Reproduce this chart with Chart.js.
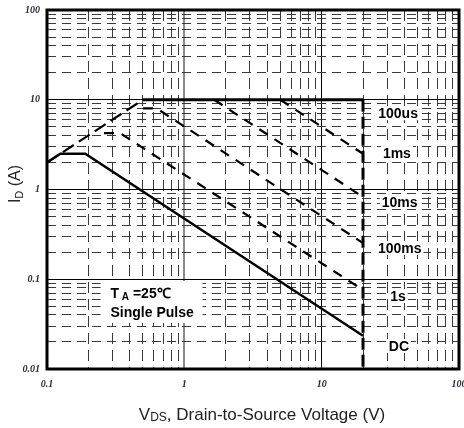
<!DOCTYPE html>
<html>
<head>
<meta charset="utf-8">
<script src="https://cdn.jsdelivr.net/npm/chart.js@4"></script>
<style>
body{margin:0;background:#fff;}
</style>
</head>
<body>
<canvas id="soa" width="464" height="428"></canvas>
<script>
// axis labels (decades only)
let xTickLabels = ['0.1', '1', '10', '100'];
let yTickLabels = ['0.01', '0.1', '1', '10', '100'];

// SOA boundary curves, pairs of [VDS (V), ID (A)]
let rdsLimit   = [[0.1, 2.0], [0.5, 10]];
let limit100us = [[0.5, 10], [20, 10]];
let vdsMax     = [[20, 10], [20, 0.01]];
let limit1ms   = [[5, 10], [20, 2.5]];
let limit10ms  = [[1.65, 10], [20, 0.825]];
let limit100ms = [[0.5, 8], [0.63, 8], [20, 0.253]];
let limit1s    = [[0.26, 4.25], [0.34, 4.25], [20, 0.076]];
let limitDC    = [[0.1, 2.0], [0.125, 2.5], [0.19, 2.5], [20, 0.0235]];

let curveNames = ['100us', '1ms', '10ms', '100ms', '1s', 'DC'];

function pts(arr){
    return arr.map(function(p){ return {x: p[0], y: p[1]}; });
}

function isDecade(v){
    let l = Math.log10(v);
    return Math.abs(l - Math.round(l)) < 1e-6;
}

// 1..9 x 10^e grid positions
function gridValues(lo, hi){
    let out = [];
    for (let e = lo; e < hi; e++){
        for (let m = 1; m < 10; m++){
            out.push(parseFloat((m * Math.pow(10, e)).toPrecision(3)));
        }
    }
    out.push(Math.pow(10, hi));
    return out;
}

function line(data, width, dash){
    return {
        data: pts(data),
        borderColor: '#000',
        borderWidth: width,
        borderDash: dash,
        borderCapStyle: 'butt',
        pointRadius: 0,
        tension: 0,
        fill: false
    };
}

function drawRuns(ctx, runs, x, y){
    runs.forEach(function(r){
        ctx.font = r[1];
        ctx.fillText(r[0], x, y + r[2]);
        x += ctx.measureText(r[0]).width;
    });
    return x;
}

function runsWidth(ctx, runs){
    let w = 0;
    runs.forEach(function(r){
        ctx.font = r[1];
        w += ctx.measureText(r[0]).width;
    });
    return w;
}

let sans = '"Liberation Sans", Arial, sans-serif';

let overlay = {
    id: 'overlay',
    beforeDatasetsDraw: function(chart){
        let ctx = chart.ctx;
        let sx = chart.scales.x, sy = chart.scales.y;
        ctx.save();
        ctx.font = 'bold 14px ' + sans;
        ctx.textAlign = 'center';
        ctx.textBaseline = 'middle';
        let spots = [[36, 7.1], [35.3, 2.55], [37, 0.726], [37, 0.223], [36, 0.065], [36.5, 0.018]];
        curveNames.forEach(function(name, i){
            let px = sx.getPixelForValue(spots[i][0]);
            let py = sy.getPixelForValue(spots[i][1]);
            let w = ctx.measureText(name).width;
            ctx.fillStyle = '#fff';
            ctx.fillRect(px - w / 2 - 2, py - 7, w + 4, 14);
            ctx.fillStyle = '#000';
            ctx.fillText(name, px, py + 1);
        });

        // test condition box
        let ax = sx.getPixelForValue(0.29);
        let ay = sy.getPixelForValue(0.0703);
        ctx.fillStyle = '#fff';
        ctx.fillRect(ax - 10, ay - 12, 102, 42);
        ctx.fillStyle = '#000';
        ctx.textAlign = 'left';
        ctx.textBaseline = 'alphabetic';
        drawRuns(ctx, [['T', 'bold 14px ' + sans, 0], [' A', 'bold 10px ' + sans, 2], [' =25\u2103', 'bold 14px ' + sans, 0]], ax, ay + 5);
        drawRuns(ctx, [['Single Pulse', 'bold 14px ' + sans, 0]], ax, ay + 24);
        ctx.restore();
    },
    afterDatasetsDraw: function(chart){
        let ctx = chart.ctx, a = chart.chartArea;
        ctx.save();
        ctx.strokeStyle = '#000';
        ctx.lineWidth = 3;
        ctx.strokeRect(a.left, a.top, a.right - a.left, a.bottom - a.top);
        ctx.restore();
    },
    afterDraw: function(chart){
        let ctx = chart.ctx;
        ctx.save();
        ctx.fillStyle = '#222';
        ctx.textAlign = 'left';
        ctx.textBaseline = 'alphabetic';
        let xt = [['V', '17px ' + sans, 0], ['DS', '12px ' + sans, 1], [', Drain-to-Source Voltage (V)', '17px ' + sans, 0]];
        let w = runsWidth(ctx, xt);
        drawRuns(ctx, xt, 262 - w / 2, 420);

        let yt = [['I', '16px ' + sans, 0], ['D', '11px ' + sans, 3], [' (A)', '16px ' + sans, 0]];
        ctx.translate(20, 184);
        ctx.rotate(-Math.PI / 2);
        let w2 = runsWidth(ctx, yt);
        drawRuns(ctx, yt, -w2 / 2, 0);
        ctx.restore();
    }
};

function axisOptions(lo, hi, labels, vertical){
    let vals = gridValues(lo, hi);
    return {
        type: 'logarithmic',
        min: Math.pow(10, lo),
        max: Math.pow(10, hi),
        afterBuildTicks: function(scale){
            scale.ticks = vals.map(function(v){ return {value: v, major: isDecade(v)}; });
        },
        afterFit: function(scale){
            if (vertical){
                scale.height = 59;
                scale.paddingLeft = 0;
                scale.paddingRight = 0;
            } else {
                scale.width = 47;
                scale.paddingTop = 0;
                scale.paddingBottom = 0;
            }
        },
        grid: {
            drawTicks: false,
            color: function(c){
                if (!c.tick) return '#000';
                if (vertical && c.tick.value === 1) return '#8a8a8a';
                return isDecade(c.tick.value) ? '#000' : '#3a3a3a';
            },
            lineWidth: function(c){
                if (!c.tick) return 1;
                if (vertical && c.tick.value === 1) return 2;
                return 1;
            }
        },
        border: {
            display: false,
            dash: function(c){
                if (!c.tick || isDecade(c.tick.value)) return [];
                return vertical ? [11, 6] : [9, 6];
            }
        },
        ticks: {
            autoSkip: false,
            maxRotation: 0,
            minRotation: 0,
            padding: vertical ? 9 : 7,
            color: '#2b2b3a',
            font: {family: '"Liberation Serif", serif', size: 10, style: 'italic', weight: 'bold'},
            callback: function(v){
                if (!isDecade(v)) return '';
                return labels[Math.round(Math.log10(v)) - lo];
            }
        }
    };
}

let ctx = document.getElementById('soa').getContext('2d');
let chart = new Chart(ctx, {
    type: 'line',
    data: {
        datasets: [
            line(rdsLimit, 2.2, [13, 6]),
            line(limit100us, 3, []),
            line(vdsMax, 3, [12, 5]),
            line(limit1ms, 2.2, [10, 8]),
            line(limit10ms, 2.2, [10, 8]),
            line(limit100ms, 2.2, [10, 8]),
            line(limit1s, 2.2, [10, 8]),
            line(limitDC, 2.5, [])
        ]
    },
    options: {
        responsive: false,
        animation: false,
        layout: {padding: {top: 10, right: 5, left: 0, bottom: 0}},
        plugins: {legend: {display: false}, tooltip: {enabled: false}},
        scales: {
            x: axisOptions(-1, 2, xTickLabels, true),
            y: axisOptions(-2, 2, yTickLabels, false)
        }
    },
    plugins: [overlay]
});
</script>
</body>
</html>
